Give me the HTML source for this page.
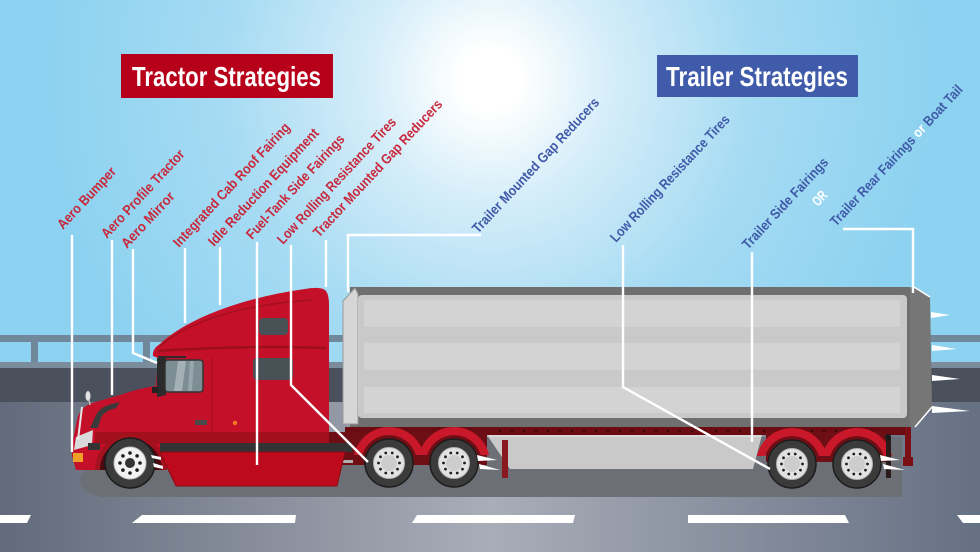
<!DOCTYPE html>
<html><head><meta charset="utf-8"><style>
html,body{margin:0;padding:0;background:#8fd3f1;}
svg{display:block;}
.lr{font-family:"Liberation Sans Narrow","Liberation Sans",sans-serif;font-size:14px;font-weight:bold;fill:#c8283c;}
.lb{font-family:"Liberation Sans Narrow","Liberation Sans",sans-serif;font-size:14px;font-weight:bold;fill:#3f5aa8;}
.tt{font-family:"Liberation Sans Narrow","Liberation Sans",sans-serif;font-size:28px;font-weight:bold;fill:#fff;}
</style></head><body>
<svg width="980" height="552" viewBox="0 0 980 552" xmlns="http://www.w3.org/2000/svg">
<defs>
<radialGradient id="sun" cx="490" cy="80" r="440" gradientUnits="userSpaceOnUse">
<stop offset="0" stop-color="#ffffff"/>
<stop offset="0.07" stop-color="#ffffff"/>
<stop offset="0.28" stop-color="#d4edf9"/>
<stop offset="0.6" stop-color="#a6dbf3"/>
<stop offset="1" stop-color="#8dd2f0"/>
</radialGradient>
<linearGradient id="road" x1="0" y1="0" x2="980" y2="0" gradientUnits="userSpaceOnUse">
<stop offset="0" stop-color="#626a7b"/>
<stop offset="0.5" stop-color="#a9adb8"/>
<stop offset="1" stop-color="#657083"/>
</linearGradient>
<g id="wh">
<circle r="24" fill="#3b3b3b" stroke="#1c1c1c" stroke-width="1.5"/>
<circle r="15.5" fill="#e2e2e2" stroke="#b5b5b5" stroke-width="1"/>
<circle r="8" fill="#cdcdcd"/>
<g fill="#1e1e1e">
<circle cx="10.5" cy="0" r="1.4"/><circle cx="8.49" cy="6.17" r="1.4"/><circle cx="3.24" cy="9.99" r="1.4"/><circle cx="-3.24" cy="9.99" r="1.4"/><circle cx="-8.49" cy="6.17" r="1.4"/>
<circle cx="-10.5" cy="0" r="1.4"/><circle cx="-8.49" cy="-6.17" r="1.4"/><circle cx="-3.24" cy="-9.99" r="1.4"/><circle cx="3.24" cy="-9.99" r="1.4"/><circle cx="8.49" cy="-6.17" r="1.4"/>
</g>
</g>
<g id="fender">
<path d="M -35.1 -8 A 36 36 0 0 1 35.1 -8 L 26.8 -8 A 28 28 0 0 0 -26.8 -8 Z" fill="#c8182a"/>
</g>
</defs>

<!-- sky -->
<rect x="0" y="0" width="980" height="552" fill="url(#sun)"/>

<!-- overpass -->
<rect x="0" y="335" width="980" height="7" fill="#71889a"/>
<rect x="31" y="342" width="7" height="20" fill="#71889a"/>
<rect x="143" y="342" width="7" height="20" fill="#71889a"/>
<rect x="0" y="362" width="980" height="6" fill="#7b8d9c"/>
<rect x="0" y="368" width="980" height="34" fill="#4b505d"/>

<!-- road -->
<rect x="0" y="402" width="980" height="150" fill="url(#road)"/>
<g fill="#ffffff">
<polygon points="0,515 31,515 27,523 0,523"/>
<polygon points="142,515 296,515 295,523 132,523"/>
<polygon points="417,515 575,515 573,523 412,523"/>
<polygon points="688,515 845,515 849,523 688,523"/>
<polygon points="957,515 980,515 980,523 963,523"/>
</g>

<!-- shadow -->
<rect x="100" y="437" width="802" height="60" fill="#6d6f76"/>
<ellipse cx="106" cy="481" rx="26" ry="16" fill="#6d6f76"/>

<!-- trailer -->
<polygon points="905,288 914,287 930,297 932,407 915,427 905,427" fill="#767676"/>
<rect x="350" y="287" width="560" height="141" fill="#6f6f6f"/>
<polygon points="343,301 355,288 358,294 358,424 343,424" fill="#d6d6d6" stroke="#9a9a9a" stroke-width="1"/>
<rect x="358" y="295" width="549" height="123" rx="4" fill="#c9c9c9"/>
<rect x="364" y="300" width="536" height="27" rx="2" fill="#d3d3d3"/>
<rect x="364" y="343" width="536" height="27" rx="2" fill="#d3d3d3"/>
<rect x="364" y="387" width="536" height="26" rx="2" fill="#d3d3d3"/>
<path d="M914 287 L930 297 M932 407 L915 427" stroke="#ffffff" stroke-width="1.5" fill="none"/>
<!-- rear spikes -->
<g fill="#ffffff">
<polygon points="931,312 950,315 931,318"/>
<polygon points="932,345 957,349 932,351"/>
<polygon points="932,375 960,379 932,381"/>
<polygon points="932,406 970,411 932,413"/>
</g>
<!-- underframe rail -->
<rect x="345" y="427" width="562" height="8" fill="#6b0c13"/>
<g fill="#3e070b">
<circle cx="500" cy="431" r="1.2"/><circle cx="512" cy="431" r="1.2"/><circle cx="524" cy="431" r="1.2"/><circle cx="536" cy="431" r="1.2"/><circle cx="548" cy="431" r="1.2"/><circle cx="560" cy="431" r="1.2"/><circle cx="572" cy="431" r="1.2"/><circle cx="584" cy="431" r="1.2"/><circle cx="596" cy="431" r="1.2"/><circle cx="608" cy="431" r="1.2"/><circle cx="620" cy="431" r="1.2"/><circle cx="632" cy="431" r="1.2"/><circle cx="644" cy="431" r="1.2"/><circle cx="656" cy="431" r="1.2"/><circle cx="668" cy="431" r="1.2"/><circle cx="680" cy="431" r="1.2"/><circle cx="692" cy="431" r="1.2"/><circle cx="704" cy="431" r="1.2"/><circle cx="716" cy="431" r="1.2"/><circle cx="728" cy="431" r="1.2"/><circle cx="740" cy="431" r="1.2"/><circle cx="752" cy="431" r="1.2"/><circle cx="764" cy="431" r="1.2"/><circle cx="800" cy="431" r="1.2"/><circle cx="812" cy="431" r="1.2"/><circle cx="824" cy="431" r="1.2"/><circle cx="836" cy="431" r="1.2"/><circle cx="848" cy="431" r="1.2"/><circle cx="860" cy="431" r="1.2"/><circle cx="872" cy="431" r="1.2"/>
</g>
<!-- side skirt -->
<polygon points="487,435 762,435 753,469 510,469" fill="#c9c9c9"/>
<line x1="489" y1="436" x2="761" y2="436" stroke="#d9d9d9" stroke-width="2"/>
<rect x="502" y="440" width="6" height="38" fill="#8a1820"/>

<!-- drive axle area -->
<rect x="329" y="432" width="158" height="33" fill="#6e0e15"/>
<rect x="333" y="460" width="20" height="3" fill="#b0b0b0"/>
<use href="#fender" x="389" y="463"/>
<use href="#fender" x="454" y="463"/>
<!-- trailer rear axle -->
<rect x="766" y="432" width="124" height="30" fill="#6e0e15"/>
<use href="#fender" x="792" y="464"/>
<use href="#fender" x="857" y="464"/>
<rect x="882" y="427" width="29" height="6" fill="#6b0c13"/>
<rect x="905" y="427" width="6" height="38" fill="#7a0f16"/>
<rect x="903" y="457" width="10" height="9" fill="#7a0f16"/>
<rect x="886" y="437" width="5" height="41" fill="#2a1a1a"/>
<circle cx="888" cy="437" r="3" fill="#1a1a1a"/>

<!-- wheels -->
<use href="#wh" x="389" y="463"/>
<use href="#wh" x="454" y="463"/>
<use href="#wh" x="792" y="464"/>
<use href="#wh" x="857" y="464"/>
<g fill="#ffffff">
<polygon points="477,455 497,460 478,461"/>
<polygon points="479,464 500,470 480,469"/>
<polygon points="880,455 900,460 881,461"/>
<polygon points="883,464 905,470 884,469"/>
</g>

<!-- tractor -->
<path d="M76 470 L72 456 L73 440 L77 420 Q80 407 92 403 L120 395 Q140 388 156 386 L158 358 L153 356 Q152 349 160 344 C185 320 240 298 305 289 Q322 286 326 291 Q329 295 329 305 L329 452 L160 452 L160 470 Z" fill="#c5102a"/>
<path d="M160 346 C190 321 240 305 312 300" stroke="#a30f1f" stroke-width="1.5" fill="none"/>
<path d="M158 351 Q240 345 326 348" stroke="#9e0f1e" stroke-width="2.5" fill="none"/>
<path d="M212 358 L212 440" stroke="#a80e1e" stroke-width="1" fill="none"/>
<path d="M95 432 L329 432 L329 444 L95 444 Z" fill="#a40f1d"/>
<!-- windows -->
<rect x="259" y="318" width="29" height="17" rx="4" fill="#485256"/>
<rect x="253" y="358" width="40" height="22" rx="4" fill="#485256"/>
<polygon points="157,358 166,358 166,395 157,397" fill="#2b2b2b"/>
<line x1="158" y1="357" x2="186" y2="357" stroke="#2b2b2b" stroke-width="2"/>
<rect x="165" y="360" width="38" height="32" rx="3" fill="#7c8d94" stroke="#333" stroke-width="1.5"/>
<polygon points="178,361 186,361 182,391 174,391" fill="#a3b1b6"/>
<polygon points="190,361 194,361 192,391 188,391" fill="#98a7ad"/>
<rect x="152" y="387" width="6" height="6" fill="#222"/>
<!-- door handle, marker -->
<rect x="195" y="420" width="12" height="5" fill="#4a4a4a"/>
<circle cx="235" cy="423" r="2.2" fill="#f07a20"/>
<!-- front details -->
<path d="M90 428 L96 415 Q100 407 112 404 L120 402 L116 408 Q104 411 101 418 L98 428 Z" fill="#3a3a3a"/>
<polygon points="76,437 93,430 92,445 74,450" fill="#d8dadc"/>
<line x1="82" y1="407" x2="78" y2="440" stroke="#e6e6e6" stroke-width="2"/>
<rect x="88" y="443" width="12" height="7" fill="#333"/>
<rect x="73" y="453" width="10" height="9" fill="#f0a028"/>
<ellipse cx="88" cy="396" rx="2.5" ry="5" fill="#e2e2e2"/>
<line x1="89" y1="400" x2="90" y2="405" stroke="#bbb" stroke-width="1.5"/>
<!-- front wheel -->
<path d="M95 470 A36 36 0 0 1 167 470 Z" fill="#a3101e"/>
<path d="M100 470 A31 31 0 0 1 162 470 Z" fill="#4a0a10"/>
<circle cx="130" cy="463" r="25" fill="#3b3b3b" stroke="#1c1c1c" stroke-width="1.5"/>
<circle cx="130" cy="463" r="16" fill="#f2f2f2" stroke="#c0c0c0" stroke-width="1"/>
<circle cx="130" cy="463" r="5" fill="#333"/>
<g fill="#1e1e1e">
<circle cx="140" cy="463" r="1.8"/><circle cx="137.07" cy="470.07" r="1.8"/><circle cx="130" cy="473" r="1.8"/><circle cx="122.93" cy="470.07" r="1.8"/>
<circle cx="120" cy="463" r="1.8"/><circle cx="122.93" cy="455.93" r="1.8"/><circle cx="130" cy="453" r="1.8"/><circle cx="137.07" cy="455.93" r="1.8"/>
</g>
<g fill="#ffffff">
<polygon points="151,455 161,457 161,460 152,458"/>
<polygon points="153,463 163,466 163,469 154,467"/>
</g>
<!-- stripe & fairing -->
<polygon points="160,443 352,443 352,452 160,452" fill="#333"/>
<polygon points="160,452 345,452 337,486 176,486" fill="#bd0a1c" stroke="#8a0a14" stroke-width="1"/>

<!-- connectors -->
<g stroke="#ffffff" stroke-width="2.4" fill="none">
<path d="M72 235 L72 452"/>
<path d="M112 240 L112 395"/>
<path d="M133 249 L133 353 L157 363"/>
<path d="M185 248 L185 323"/>
<path d="M220 247 L220 305"/>
<path d="M257 242 L257 465"/>
<path d="M291 245 L291 385 L368 462"/>
<path d="M326 240 L326 287"/>
<path d="M481 235 L348 235 L348 292"/>
<path d="M623 245 L623 387 L770 469"/>
<path d="M752 252 L752 442"/>
<path d="M843 229 L913 229 L913 293"/>
</g>

<!-- labels -->
<text class="lr" x="63" y="230" transform="rotate(-47 63 230)" textLength="79" lengthAdjust="spacingAndGlyphs">Aero Bumper</text>
<text class="lr" x="107" y="239" transform="rotate(-47 107 239)" textLength="115" lengthAdjust="spacingAndGlyphs">Aero Profile Tractor</text>
<text class="lr" x="127" y="249" transform="rotate(-47 127 249)" textLength="71" lengthAdjust="spacingAndGlyphs">Aero Mirror</text>
<text class="lr" x="179" y="248" transform="rotate(-47 179 248)" textLength="164" lengthAdjust="spacingAndGlyphs">Integrated Cab Roof Fairing</text>
<text class="lr" x="214" y="247" transform="rotate(-47 214 247)" textLength="155" lengthAdjust="spacingAndGlyphs">Idle Reduction Equipment</text>
<text class="lr" x="252" y="240" transform="rotate(-47 252 240)" textLength="137" lengthAdjust="spacingAndGlyphs">Fuel-Tank Side Fairings</text>
<text class="lr" x="283" y="245" transform="rotate(-47 283 245)" textLength="167" lengthAdjust="spacingAndGlyphs">Low Rolling Resistance Tires</text>
<text class="lr" x="319" y="238" transform="rotate(-47 319 238)" textLength="182" lengthAdjust="spacingAndGlyphs">Tractor Mounted Gap Reducers</text>
<text class="lb" x="478" y="234" transform="rotate(-47 478 234)" textLength="179" lengthAdjust="spacingAndGlyphs">Trailer Mounted Gap Reducers</text>
<text class="lb" x="616" y="243" transform="rotate(-47 616 243)" textLength="168" lengthAdjust="spacingAndGlyphs">Low Rolling Resistance Tires</text>
<text class="lb" x="748" y="250" transform="rotate(-47 748 250)" textLength="119" lengthAdjust="spacingAndGlyphs">Trailer Side Fairings</text>
<text class="lb" x="818" y="207" transform="rotate(-47 818 207)" textLength="15" lengthAdjust="spacingAndGlyphs" style="fill:#ffffff">OR</text>
<text class="lb" x="836" y="227" transform="rotate(-47 836 227)" textLength="187" lengthAdjust="spacingAndGlyphs">Trailer Rear Fairings <tspan style="fill:#ffffff">or</tspan> Boat Tail</text>

<!-- titles -->
<rect x="121" y="54" width="212" height="44" fill="#b70019"/>
<text class="tt" x="132" y="86" textLength="189" lengthAdjust="spacingAndGlyphs">Tractor Strategies</text>
<rect x="657" y="55" width="201" height="42" fill="#3f5ba9"/>
<text class="tt" x="666" y="86" textLength="182" lengthAdjust="spacingAndGlyphs">Trailer Strategies</text>
</svg>
</body></html>
